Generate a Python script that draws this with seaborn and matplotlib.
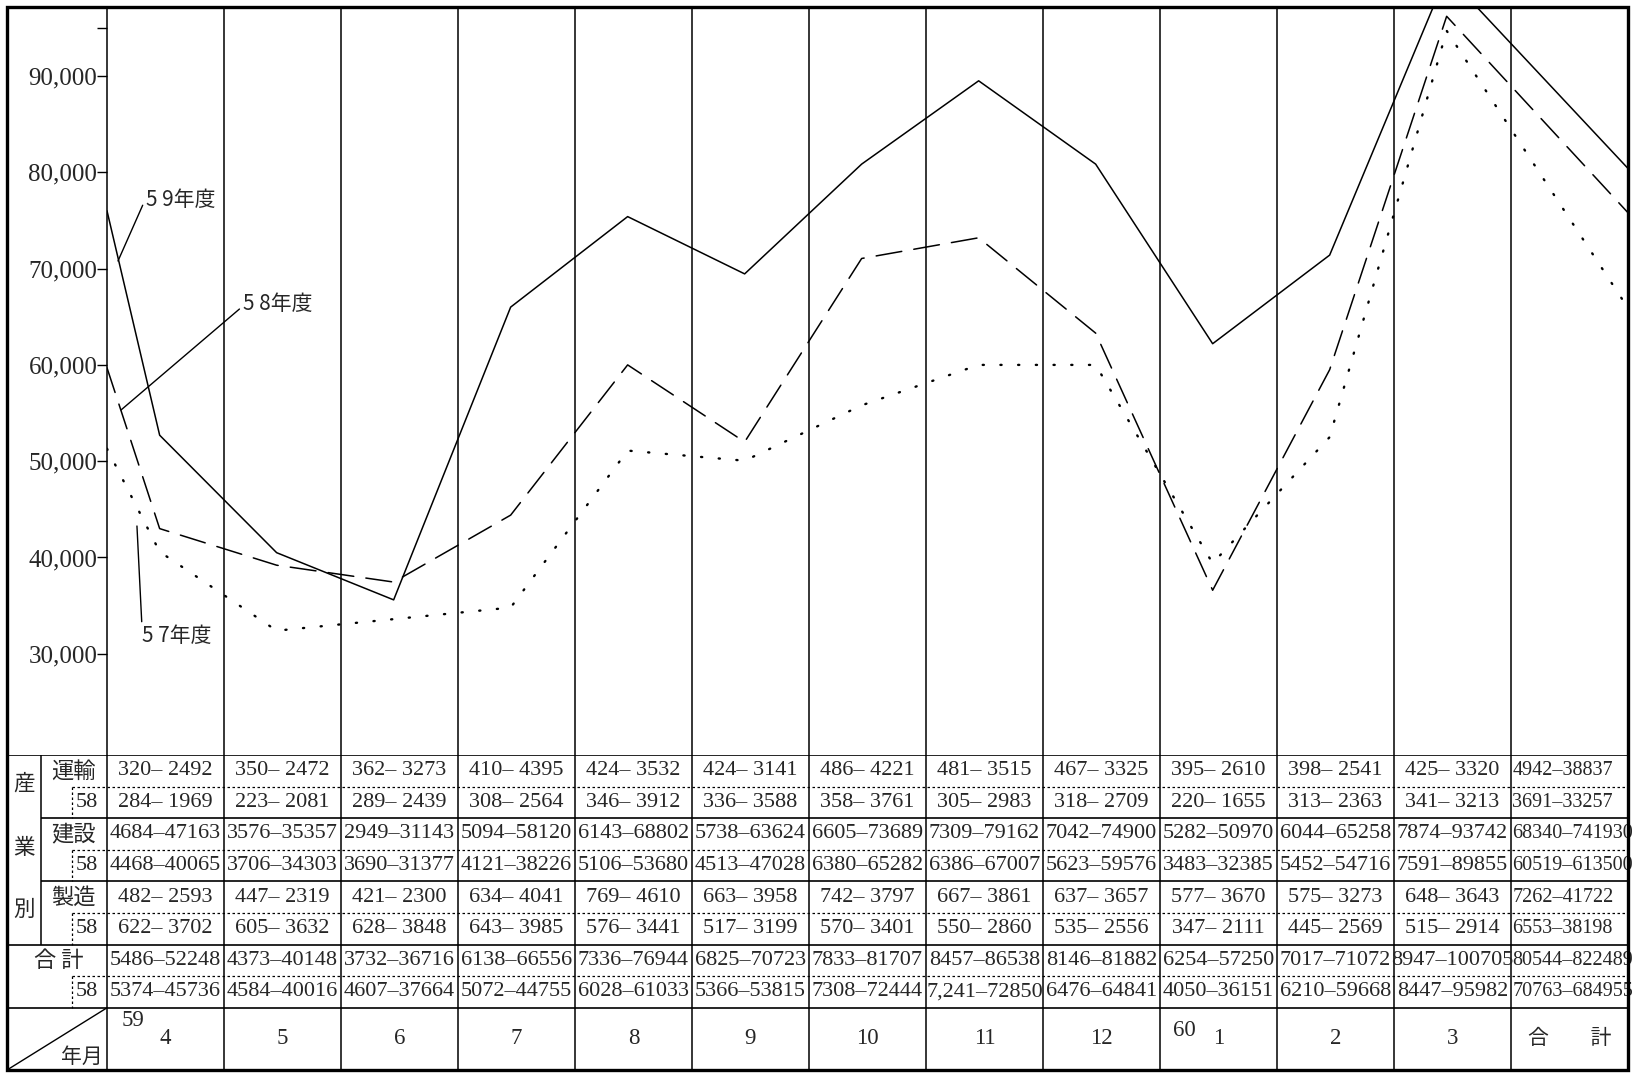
import matplotlib
matplotlib.use("Agg")
import matplotlib.pyplot as plt
import numpy as np
import pandas as pd
import seaborn as sns

# 月 (59年度) と系列
months = ["4", "5", "6", "7", "8", "9", "10", "11", "12", "1", "2", "3"]
series_names = ["5 9年度", "5 8年度", "5 7年度"]

# グラフから読み取った月別の値
fy59 = [52700, 40500, 35600, 66000, 75400, 69450, 80850, 89500, 80850, 62200, 71400, 100500]
fy58 = [43000, 39200, 37450, 44400, 60000, 52000, 71050, 73200, 63300, 36600, 59500, 96200]
fy57 = [40600, 32400, 33600, 34800, 51100, 50050, 55800, 60000, 60000, 39400, 52500, 94700]
# 左端と右端(合計欄)の値
start_vals = [76000, 59700, 51300]
end_vals = [80400, 75800, 65900]

y_ticks = [30000, 40000, 50000, 60000, 70000, 80000, 90000]

# 下の表
group_labels = ["運輸", "建設", "製造"]
transport59 = ["320– 2492", "350– 2472", "362– 3273", "410– 4395", "424– 3532", "424– 3141", "486– 4221",
               "481– 3515", "467– 3325", "395– 2610", "398– 2541", "425– 3320", "4942–38837"]
transport58 = ["284– 1969", "223– 2081", "289– 2439", "308– 2564", "346– 3912", "336– 3588", "358– 3761",
               "305– 2983", "318– 2709", "220– 1655", "313– 2363", "341– 3213", "3691–33257"]
construction59 = ["4684–47163", "3576–35357", "2949–31143", "5094–58120", "6143–68802", "5738–63624", "6605–73689",
                  "7309–79162", "7042–74900", "5282–50970", "6044–65258", "7874–93742", "68340–741930"]
construction58 = ["4468–40065", "3706–34303", "3690–31377", "4121–38226", "5106–53680", "4513–47028", "6380–65282",
                  "6386–67007", "5623–59576", "3483–32385", "5452–54716", "7591–89855", "60519–613500"]
manufacturing59 = ["482– 2593", "447– 2319", "421– 2300", "634– 4041", "769– 4610", "663– 3958", "742– 3797",
                   "667– 3861", "637– 3657", "577– 3670", "575– 3273", "648– 3643", "7262–41722"]
manufacturing58 = ["622– 3702", "605– 3632", "628– 3848", "643– 3985", "576– 3441", "517– 3199", "570– 3401",
                   "550– 2860", "535– 2556", "347– 2111", "445– 2569", "515– 2914", "6553–38198"]
total59 = ["5486–52248", "4373–40148", "3732–36716", "6138–66556", "7336–76944", "6825–70723", "7833–81707",
           "8457–86538", "8146–81882", "6254–57250", "7017–71072", "8947–100705", "80544–822489"]
total58 = ["5374–45736", "4584–40016", "4607–37664", "5072–44755", "6028–61033", "5366–53815", "7308–72444",
           "7,241–72850", "6476–64841", "4050–36151", "6210–59668", "8447–95982", "70763–684955"]
table_rows = [transport59, transport58, construction59, construction58,
              manufacturing59, manufacturing58, total59, total58]

sns.set_style("white")
plt.rcParams["font.family"] = ["Liberation Serif", "Noto Sans CJK JP", "DejaVu Sans"]
CJK = ["Noto Sans CJK JP", "DejaVu Sans"]

W, H = 1634, 1075
fig = plt.figure(figsize=(W / 100, H / 100), dpi=100)
x0, x1, ytop, ysplit, ybot = 107, 1628, 7, 755, 1070
col_w = (x1 - x0) / 13
ax = fig.add_axes([x0 / W, 1 - ysplit / H, (x1 - x0) / W, (ysplit - ytop) / H])
tab = fig.add_axes([7 / W, 1 - ybot / H, (x1 - 7) / W, (ybot - ysplit) / H])

# --- line chart ---
x_pos = np.arange(len(months)) + 0.45
frames = []
for name, vals, s, e in zip(series_names, [fy59, fy58, fy57], start_vals, end_vals):
    xs = np.concatenate([[0], x_pos, [13]])
    frames.append(pd.DataFrame({"x": xs, "value": [s] + vals + [e], "series": name}))
df = pd.concat(frames, ignore_index=True)

sns.lineplot(data=df, x="x", y="value", style="series", size="series",
             dashes={"5 9年度": "", "5 8年度": (17, 8), "5 7年度": (0.5, 7)},
             sizes={"5 9年度": 1.1, "5 8年度": 1.1, "5 7年度": 1.7},
             color="black", dash_capstyle="round", sort=False, estimator=None,
             legend=False, ax=ax)

ax.set_xlim(0, 13)
ax.set_ylim(19491, 97165)
ax.set_xticks([])
ax.set_yticks(y_ticks)
ax.set_yticklabels([f"{v:,}" for v in y_ticks])
ax.set_yticks([95000], minor=True)
ax.tick_params(axis="y", which="both", direction="out", length=7, width=1,
               pad=0, labelsize=18, left=True, color="black")
ax.set_xlabel("")
ax.set_ylabel("")
for side in ["top", "right", "bottom"]:
    ax.spines[side].set_visible(False)
ax.spines["left"].set_color("black")
ax.spines["left"].set_linewidth(1.1)
for i in range(1, 13):
    ax.axvline(i, color="black", lw=1.1, zorder=1)

arrow = dict(arrowstyle="-", color="black", lw=1.0, shrinkA=0, shrinkB=0)
ax.annotate(series_names[0], xy=(0.094, 70790), xytext=(0.333, 77120), ha="left", va="center",
            fontsize=15, family=CJK, arrowprops={**arrow, "relpos": (0, 0.6)})
ax.annotate(series_names[1], xy=(0.12, 55320), xytext=(1.16, 66320), ha="left", va="center",
            fontsize=15, family=CJK, arrowprops={**arrow, "relpos": (0, 0.4)})
ax.annotate(series_names[2], xy=(0.256, 43270), xytext=(0.30, 31850), ha="left", va="center",
            fontsize=15, family=CJK, arrowprops={**arrow, "relpos": (0, 0.8)})

# --- table ---
row_h = 31.6
ymax = (ybot - ysplit) / row_h
x_left = -(x0 - 7) / col_w
x_ind = -(x0 - 41) / col_w
x_dot = -(x0 - 72) / col_w
tab.set_xlim(x_left, 13)
tab.set_ylim(ymax, 0)
tab.axis("off")

tab.hlines([0, 6, 8], x_left, 13, color="black", lw=1.2)
tab.hlines([2, 4], x_ind, 13, color="black", lw=1.2)
tab.hlines([1, 3, 5, 7], x_dot, 13, color="black", lw=0.9, linestyles=(0, (2, 2)))
tab.vlines(np.arange(13), 0, ymax, color="black", lw=1.1)
tab.vlines([x_ind], 0, 6, color="black", lw=1.1)
tab.vlines([x_dot] * 4, [1, 3, 5, 7], [2, 4, 6, 8], color="black", lw=0.9, linestyles=(0, (2, 2)))
tab.plot([x_left, 0], [ymax, 8], color="black", lw=1.0)

for k, ch in zip([0.9, 2.95, 4.9], "産業別"):
    tab.text(-(x0 - 24) / col_w, k, ch, ha="center", va="center", fontsize=15.5, family=CJK)
for g, lab in enumerate(group_labels):
    tab.text(-(x0 - 73) / col_w, 2 * g + 0.5, lab, ha="center", va="center", fontsize=16, family=CJK)
    tab.text(-(x0 - 87) / col_w, 2 * g + 1.5, "58", ha="center", va="center", fontsize=16)
tab.text(-(x0 - 59) / col_w, 6.5, "合 計", ha="center", va="center", fontsize=16, family=CJK)
tab.text(-(x0 - 87) / col_w, 7.5, "58", ha="center", va="center", fontsize=16)

for r, row in enumerate(table_rows):
    for c, s in enumerate(row):
        if c == 12:
            tab.text(c + 0.01, r + 0.5, s, ha="left", va="center", fontsize=14.5)
        else:
            tab.text(c + 0.5, r + 0.5, s, ha="center", va="center", fontsize=16)

month_y = (1038 - ysplit) / row_h
for c, m in enumerate(months):
    tab.text(c + 0.5, month_y, m, ha="center", va="center", fontsize=16.5)
tab.text(12.5, month_y, "合　　計", ha="center", va="center", fontsize=15, family=CJK)
tab.text((133 - x0) / col_w, (1020 - ysplit) / row_h, "59", ha="center", va="center", fontsize=16.5)
tab.text((1184 - x0) / col_w, (1030 - ysplit) / row_h, "60", ha="center", va="center", fontsize=16.5)
tab.text(-(x0 - 82) / col_w, (1057 - ysplit) / row_h, "年月", ha="center", va="center", fontsize=15, family=CJK)

fig.add_artist(plt.Rectangle((7 / W, 1 - ybot / H), (x1 - 7) / W, (ybot - ytop) / H,
                             transform=fig.transFigure, fill=False, lw=2.4, ec="black"))

fig.savefig("out.png", dpi=100, facecolor="white")
